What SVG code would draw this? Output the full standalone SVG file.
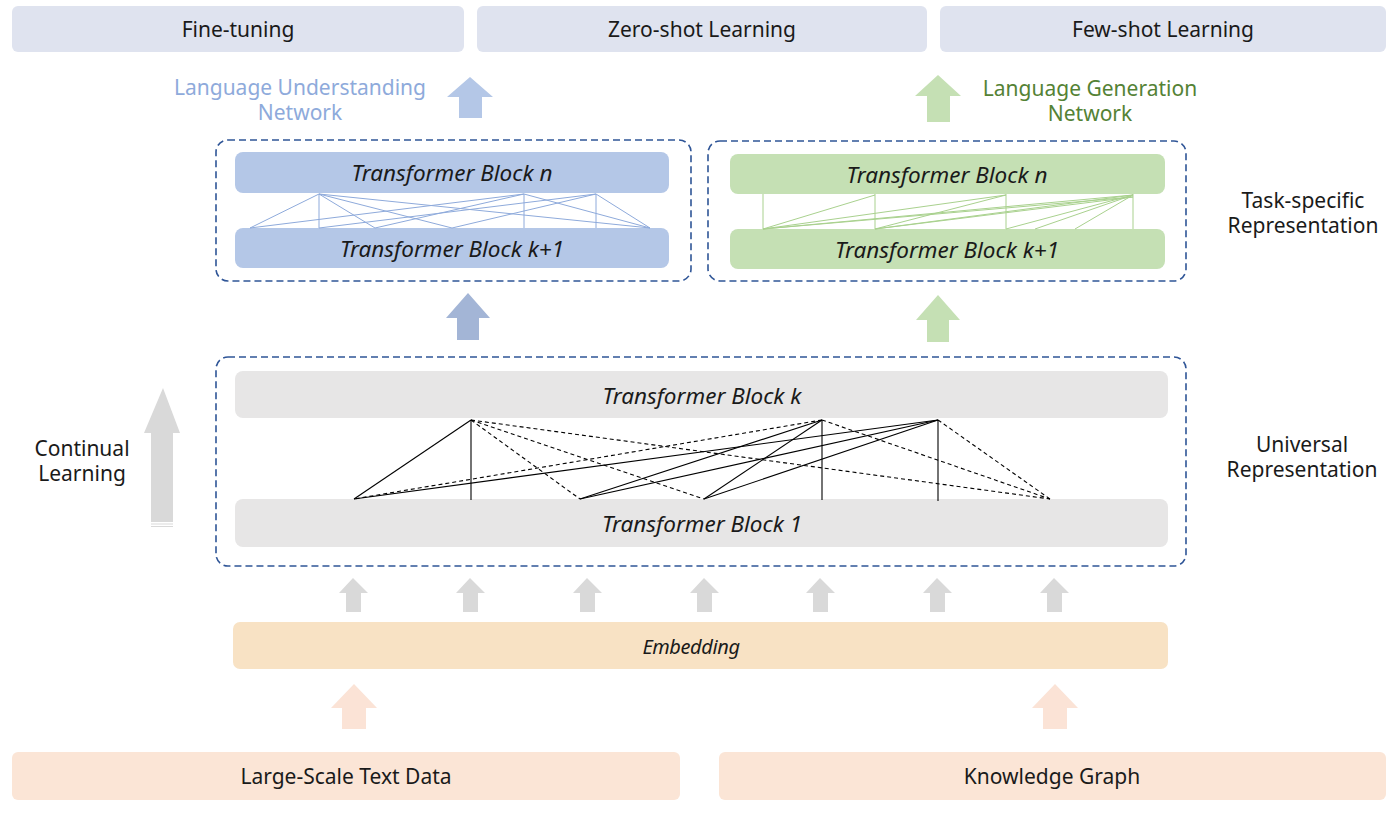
<svg xmlns="http://www.w3.org/2000/svg" width="1397" height="814" viewBox="0 0 1397 814">
<defs>
<style>
text{font-family:"Noto Sans","Open Sans","DejaVu Sans",sans-serif;font-size:21px;fill:#1a1a1a;text-anchor:middle;dominant-baseline:central}
.it{font-style:italic;font-size:22.5px}
.emb{font-style:italic;font-size:20px;letter-spacing:-0.4px}
.top{fill:#dfe3ef}
.src{fill:#fbe5d6}
.blue{fill:#b4c7e7}
.green{fill:#c5e0b4}
.gray{fill:#e7e6e6}
.dash{fill:none;stroke:#2f5597;stroke-width:1.6;stroke-dasharray:7 4}
.bl line{stroke:#8eaadb;stroke-width:1}
.gl line{stroke:#a9d18e;stroke-width:1}
.kl line{stroke:#000;stroke-width:1.1}
.kl line.d{stroke-dasharray:4 3}
</style>
</defs>
<rect width="1397" height="814" fill="#fff"/>

<g id="fine-tuning"><rect class="top" x="12" y="6" width="452" height="46" rx="6"/><text x="238" y="29">Fine-tuning</text></g>
<g id="zero-shot"><rect class="top" x="477" y="6" width="450" height="46" rx="6"/><text x="702" y="29">Zero-shot Learning</text></g>
<g id="few-shot"><rect class="top" x="940" y="6" width="446" height="46" rx="6"/><text x="1163" y="29">Few-shot Learning</text></g>

<g id="lu-label"><text x="300" y="87" style="fill:#8eaadb">Language Understanding</text><text x="300" y="112" style="fill:#8eaadb">Network</text></g>
<g id="lg-label"><text x="1090" y="88" style="fill:#548235">Language Generation</text><text x="1090" y="113" style="fill:#548235">Network</text></g>

<g id="arrows">
<polygon points="470,77 493,97 482,97 482,118 459,118 459,97 447,97" fill="#b4c7e7"/>
<polygon points="938,75 961,96 950,96 950,122 927,122 927,96 915,96" fill="#c5e0b4"/>
<polygon points="468,293 490,318 479,318 479,340 457,340 457,318 446,318" fill="#a3b5d6"/>
<polygon points="938,295 960,320 949,320 949,342 927,342 927,320 916,320" fill="#c5e0b4"/>
<polygon points="163,388 180,433 173,433 173,522 151,522 151,433 144,433" fill="#d9d9d9"/>
<rect x="151" y="523.5" width="22" height="1" fill="#d9d9d9"/>
<rect x="151" y="526" width="22" height="1" fill="#d9d9d9"/>
<g fill="#d9d9d9">
<polygon points="353,578 368,593 361,593 361,612 346,612 346,593 339,593"/>
<polygon points="470,578 485,593 478,593 478,612 463,612 463,593 456,593"/>
<polygon points="587,578 602,593 595,593 595,612 580,612 580,593 573,593"/>
<polygon points="704,578 719,593 712,593 712,612 697,612 697,593 690,593"/>
<polygon points="820,578 835,593 828,593 828,612 813,612 813,593 806,593"/>
<polygon points="937,578 952,593 945,593 945,612 930,612 930,593 923,593"/>
<polygon points="1054,578 1069,593 1062,593 1062,612 1047,612 1047,593 1040,593"/>
</g>
<polygon points="354,684 377,708 366,708 366,729 342,729 342,708 331,708" fill="#fbe3d6"/>
<polygon points="1055,684 1078,708 1067,708 1067,729 1043,729 1043,708 1032,708" fill="#fbe3d6"/>
</g>

<g id="lu-network">
<rect class="dash" x="216" y="140" width="475" height="141" rx="12"/>
<rect class="blue" x="235" y="152" width="434" height="41" rx="8"/>
<text class="it" x="452" y="172">Transformer Block n</text>
<rect class="blue" x="235" y="228" width="434" height="40" rx="8"/>
<text class="it" x="452" y="248">Transformer Block k+1</text>
</g>

<g id="lg-network">
<rect class="dash" x="708" y="141" width="478" height="140" rx="12"/>
<rect class="green" x="730" y="154" width="435" height="40" rx="8"/>
<text class="it" x="947" y="174">Transformer Block n</text>
<rect class="green" x="730" y="229" width="435" height="40" rx="8"/>
<text class="it" x="947" y="249">Transformer Block k+1</text>
</g>

<g id="task-label"><text x="1303" y="200">Task-specific</text><text x="1303" y="225">Representation</text></g>

<g id="universal">
<rect class="dash" x="216" y="357" width="970" height="209" rx="12"/>
<rect class="gray" x="235" y="371" width="933" height="47" rx="8"/>
<text class="it" x="702" y="395">Transformer Block k</text>
<rect class="gray" x="235" y="499" width="933" height="48" rx="8"/>
<text class="it" x="702" y="523">Transformer Block 1</text>
</g>

<g id="universal-label"><text x="1302" y="444">Universal</text><text x="1302" y="469">Representation</text></g>
<g id="continual-label"><text x="82" y="448">Continual</text><text x="82" y="473">Learning</text></g>

<g id="embedding"><rect x="233" y="622" width="935" height="47" rx="7" fill="#f8e2c4"/><text class="emb" x="691" y="646">Embedding</text></g>
<g id="text-data"><rect class="src" x="12" y="752" width="668" height="48" rx="6"/><text x="346" y="776">Large-Scale Text Data</text></g>
<g id="kg"><rect class="src" x="719" y="752" width="667" height="48" rx="6"/><text x="1052" y="776">Knowledge Graph</text></g>

<g id="connectors">
<g class="bl">
<line x1="319" y1="194" x2="250" y2="228"/>
<line x1="319" y1="194" x2="319" y2="228"/>
<line x1="319" y1="194" x2="375" y2="228"/>
<line x1="319" y1="194" x2="452" y2="228"/>
<line x1="319" y1="194" x2="650" y2="228"/>
<line x1="524" y1="194" x2="250" y2="228"/>
<line x1="524" y1="194" x2="375" y2="228"/>
<line x1="524" y1="194" x2="524" y2="228"/>
<line x1="524" y1="194" x2="650" y2="228"/>
<line x1="596" y1="194" x2="319" y2="228"/>
<line x1="596" y1="194" x2="452" y2="228"/>
<line x1="596" y1="194" x2="596" y2="228"/>
<line x1="596" y1="194" x2="650" y2="228"/>
</g>
<g class="gl">
<line x1="763" y1="194" x2="763" y2="229"/>
<line x1="875" y1="194" x2="875" y2="229"/>
<line x1="1006" y1="194" x2="1006" y2="229"/>
<line x1="1133" y1="194" x2="1133" y2="229"/>
<line x1="763" y1="229" x2="875" y2="195"/>
<line x1="763" y1="229" x2="1006" y2="195"/>
<line x1="763" y1="229" x2="1133" y2="195"/>
<line x1="763" y1="229" x2="1133" y2="197"/>
<line x1="875" y1="229" x2="1006" y2="195"/>
<line x1="875" y1="229" x2="1133" y2="195"/>
<line x1="875" y1="229" x2="1133" y2="197"/>
<line x1="1006" y1="229" x2="1133" y2="195"/>
<line x1="1035" y1="229" x2="1133" y2="195"/>
<line x1="1075" y1="229" x2="1133" y2="195"/>
</g>
<g class="kl">
<line x1="471" y1="420" x2="354" y2="499"/>
<line x1="471" y1="420" x2="471" y2="500"/>
<line x1="938" y1="420" x2="354" y2="499"/>
<line x1="822" y1="420" x2="580" y2="499"/>
<line x1="938" y1="420" x2="580" y2="499"/>
<line x1="822" y1="420" x2="704" y2="499"/>
<line x1="938" y1="420" x2="704" y2="499"/>
<line x1="822" y1="420" x2="822" y2="500"/>
<line x1="938" y1="420" x2="938" y2="501"/>
<line class="d" x1="822" y1="420" x2="354" y2="499"/>
<line class="d" x1="471" y1="420" x2="580" y2="499"/>
<line class="d" x1="471" y1="420" x2="704" y2="499"/>
<line class="d" x1="471" y1="420" x2="1050" y2="499"/>
<line class="d" x1="822" y1="420" x2="1050" y2="499"/>
<line class="d" x1="938" y1="420" x2="1050" y2="499"/>
</g>
</g>
</svg>
